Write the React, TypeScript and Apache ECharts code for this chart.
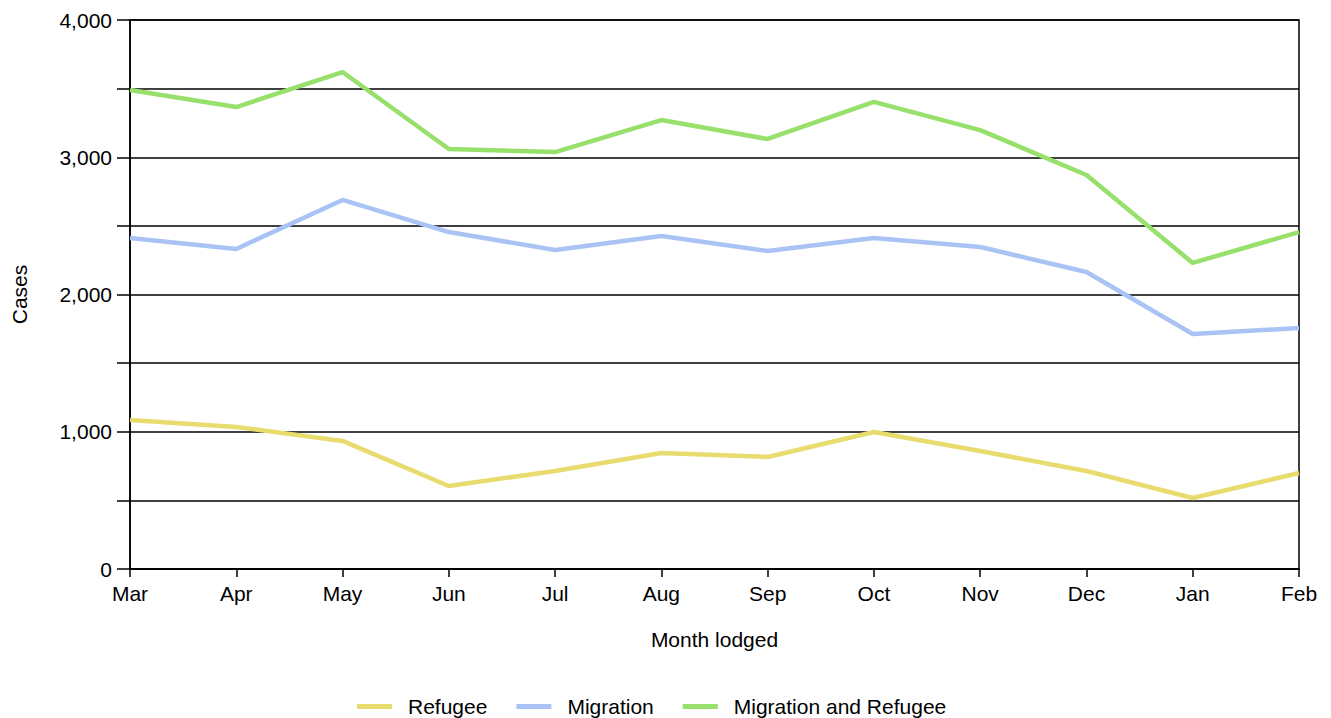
import React, { useEffect, useRef } from "react";
import * as echarts from "echarts";

const months = ["Mar", "Apr", "May", "Jun", "Jul", "Aug", "Sep", "Oct", "Nov", "Dec", "Jan", "Feb"];
const refugee = [1086, 1035, 933, 605, 714, 845, 816, 998, 860, 714, 517, 699];
const migration = [2412, 2332, 2689, 2455, 2324, 2426, 2317, 2412, 2346, 2164, 1712, 1756];
const combined = [3490, 3366, 3621, 3060, 3038, 3271, 3133, 3403, 3198, 2871, 2230, 2455];

const FONT = "Liberation Sans, Arial, sans-serif";
const FS = 21;

export default function App() {
  const ref = useRef<HTMLDivElement>(null);
  useEffect(() => {
    if (!ref.current) return;
    const chart = echarts.init(ref.current, null, { renderer: "svg" });
    const lineSeries = (name: string, data: number[], color: string) => ({
      name,
      type: "line",
      data,
      symbol: "none",
      lineStyle: { color, width: 4.5 },
      itemStyle: { color },
    });
    chart.setOption({
      animation: false,
      textStyle: { fontFamily: FONT },
      grid: {
        left: 122,
        right: 24,
        top: 12,
        bottom: 149,
        containLabel: false,
        outerBoundsMode: "none",
        show: true,
        borderColor: "#000",
        borderWidth: 1.5,
      },
      legend: {
        top: 683,
        left: 344,
        icon: "rect",
        itemWidth: 35,
        itemHeight: 5,
        itemGap: 29,
        textStyle: { fontSize: FS, color: "#000", fontFamily: FONT, padding: [0, 0, 0, 11] },
        data: ["Refugee", "Migration", "Migration and Refugee"],
      },
      xAxis: {
        type: "category",
        data: months,
        boundaryGap: false,
        name: "Month lodged",
        nameLocation: "middle",
        nameGap: 60,
        nameTextStyle: { fontSize: FS, color: "#000" },
        axisLine: { lineStyle: { color: "#000", width: 1.5 } },
        axisTick: { length: 8, lineStyle: { color: "#000", width: 1.5 } },
        axisLabel: { fontSize: FS, color: "#000", margin: 14 },
        splitLine: { show: false },
      },
      yAxis: {
        type: "value",
        min: 0,
        max: 4000,
        interval: 500,
        name: "Cases",
        nameLocation: "middle",
        nameGap: 100,
        nameRotate: 90,
        nameTextStyle: { fontSize: FS, color: "#000" },
        axisLine: { show: true, lineStyle: { color: "#000", width: 1.5 } },
        axisTick: { show: true, length: 13, lineStyle: { color: "#000", width: 1.5 } },
        axisLabel: {
          fontSize: FS,
          color: "#000",
          margin: 18,
          formatter: (v: number) => (v % 1000 === 0 ? v.toLocaleString("en-US") : ""),
        },
        splitLine: { show: true, lineStyle: { color: "#000", width: 1.5 } },
      },
      series: [
        lineSeries("Refugee", refugee, "#e8dc6e"),
        lineSeries("Migration", migration, "#a9c4f4"),
        lineSeries("Migration and Refugee", combined, "#97e06b"),
      ],
    });
    return () => chart.dispose();
  }, []);
  return <div ref={ref} style={{ width: 1315, height: 710 }} />;
}
